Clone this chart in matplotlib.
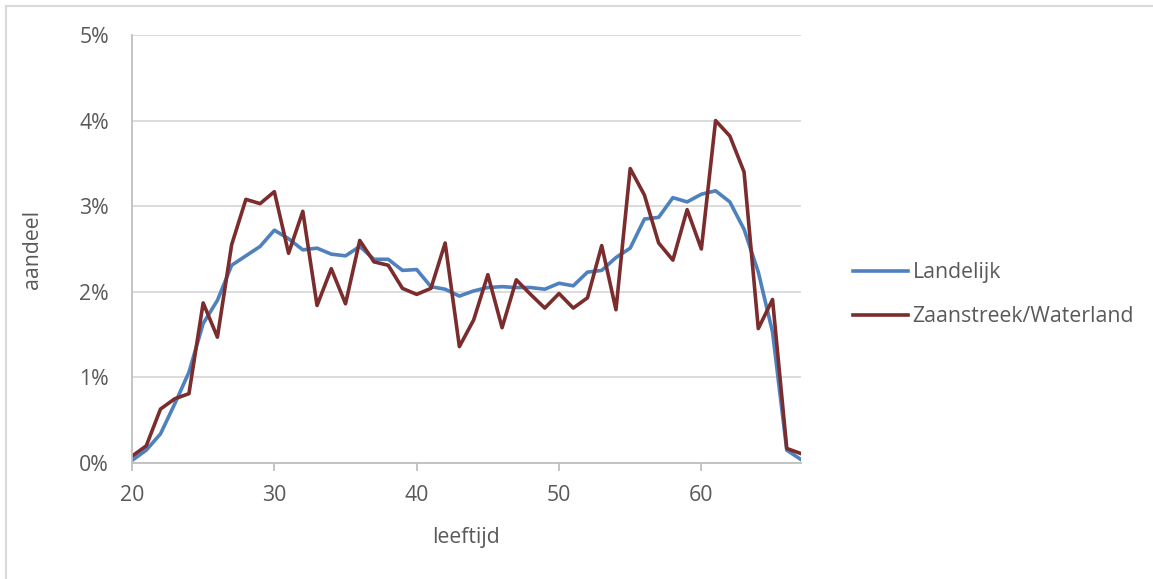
import matplotlib
matplotlib.use("Agg")
import matplotlib.pyplot as plt
from matplotlib.patches import Rectangle
from matplotlib.ticker import FuncFormatter

ages = list(range(20, 68))
landelijk = [0.03, 0.15, 0.34, 0.69, 1.06, 1.63, 1.90, 2.31, 2.42, 2.53,
             2.72, 2.62, 2.49, 2.51, 2.44, 2.42, 2.53, 2.38, 2.38, 2.25,
             2.26, 2.06, 2.03, 1.95, 2.01, 2.05, 2.06, 2.05, 2.05, 2.03,
             2.10, 2.07, 2.23, 2.25, 2.40, 2.51, 2.85, 2.87, 3.10, 3.05,
             3.14, 3.18, 3.05, 2.73, 2.23, 1.53, 0.15, 0.04]
zaanstreek = [0.08, 0.20, 0.63, 0.75, 0.81, 1.87, 1.47, 2.55, 3.08, 3.03,
              3.17, 2.45, 2.94, 1.84, 2.27, 1.86, 2.60, 2.35, 2.31, 2.04,
              1.97, 2.04, 2.57, 1.36, 1.67, 2.20, 1.58, 2.14, 1.97, 1.81,
              1.98, 1.81, 1.93, 2.54, 1.79, 3.44, 3.13, 2.57, 2.37, 2.96,
              2.50, 4.00, 3.82, 3.40, 1.57, 1.91, 0.17, 0.11]
series_names = ["Landelijk", "Zaanstreek/Waterland"]
x_ticks = [20, 30, 40, 50, 60]
y_ticks = [0, 1, 2, 3, 4, 5]

W, H = 1153, 579
fig = plt.figure(figsize=(W / 100, H / 100), dpi=100)
plt.rcParams['font.family'] = ['Open Sans', 'DejaVu Sans']
txt = '#595959'
fs = 15.3

# outer chart border
fig.patches.append(Rectangle((6 / W, -0.1), 1.2, (H - 6) / H + 0.1,
                             transform=fig.transFigure, fill=False,
                             edgecolor='#d9d9d9', linewidth=1.5))

left, right, top, bottom = 132, 801, 35, 463
ax = fig.add_axes([left / W, 1 - bottom / H, (right - left) / W, (bottom - top) / H])

ax.plot(ages, landelijk, color='#4F81BD', linewidth=2.6, label=series_names[0],
        solid_joinstyle='round')
ax.plot(ages, zaanstreek, color='#7B2C2C', linewidth=2.6, label=series_names[1],
        solid_joinstyle='round')

ax.set_xlim(20, 67)
ax.set_ylim(0, 5)
ax.set_xticks(x_ticks)
ax.set_yticks(y_ticks)
ax.yaxis.set_major_formatter(FuncFormatter(lambda v, p: f"{int(v)}%"))
ax.grid(axis='y', color='#d9d9d9', linewidth=1.3)
ax.set_axisbelow(True)
for s in ['top', 'right']:
    ax.spines[s].set_visible(False)
for s in ['left', 'bottom']:
    ax.spines[s].set_color('#bfbfbf')
    ax.spines[s].set_linewidth(1.3)
ax.tick_params(axis='x', colors='#bfbfbf', labelcolor=txt, length=6, width=1.3,
               labelsize=fs, pad=10)
ax.tick_params(axis='y', length=0, labelcolor=txt, labelsize=fs, pad=16.5)

ax.set_xlabel('leeftijd', color=txt, fontsize=fs, labelpad=15)
ax.set_ylabel('aandeel', color=txt, fontsize=fs, labelpad=26)

leg = ax.legend(loc='center left', bbox_to_anchor=(1.078, 0.393), frameon=False,
                fontsize=fs, handlelength=2.6, handletextpad=0.2, labelspacing=1.08,
                borderaxespad=0, borderpad=0, labelcolor=txt)

fig.savefig('out.png', dpi=100)
